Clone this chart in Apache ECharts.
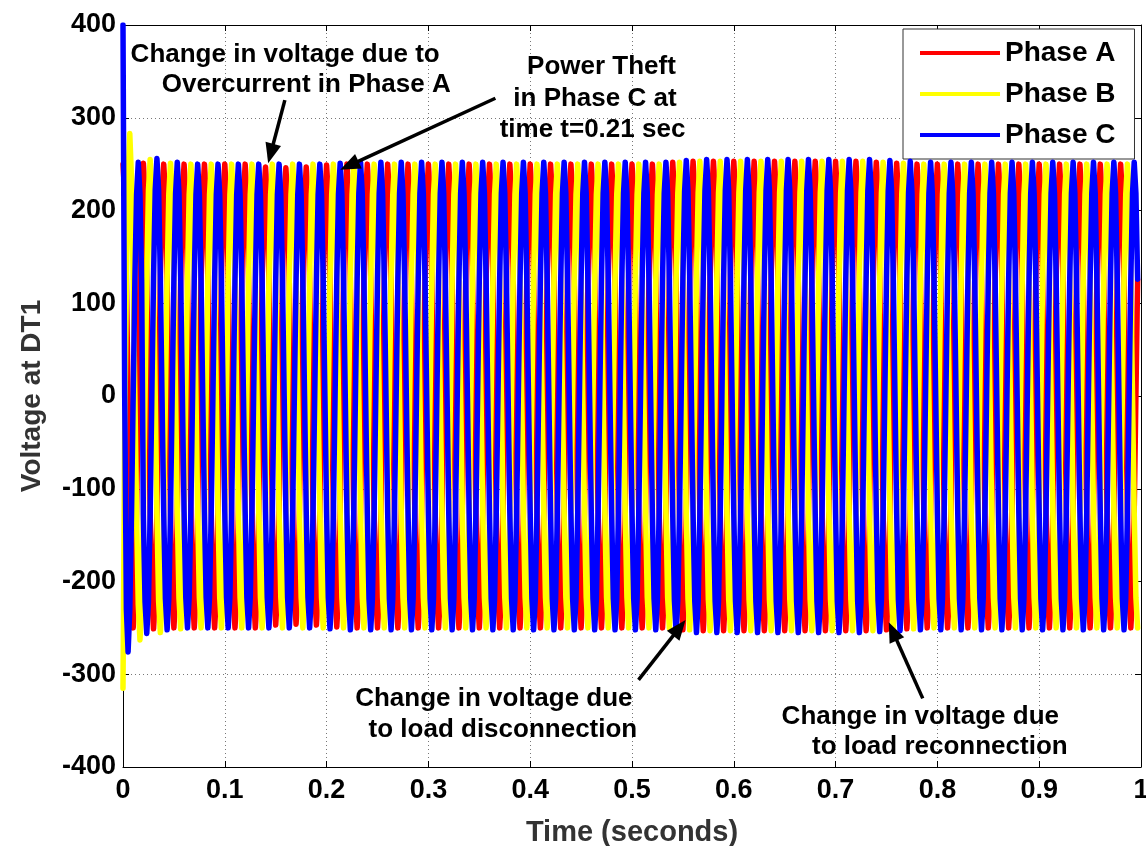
<!DOCTYPE html>
<html><head><meta charset="utf-8">
<script src="https://cdn.jsdelivr.net/npm/echarts@6/dist/echarts.min.js"></script>
<style>html,body{margin:0;padding:0;background:#fff}#c{width:1146px;height:846px}</style>
</head><body><div id="c"></div>
<script>
// ---- data ----
const xTicks = [0, 0.1, 0.2, 0.3, 0.4, 0.5, 0.6, 0.7, 0.8, 0.9, 1];
const yTicks = [-400, -300, -200, -100, 0, 100, 200, 300, 400];
const seriesNames = ['Phase A', 'Phase B', 'Phase C'];
const sampleStep = 1 / 600;            // s between plotted samples (12 per 50 Hz cycle)
const samplesPerCycle = 12;
const cycleShape = [250, 217, 125, 0, -125, -217, -250, -217, -125, 0, 125, 217]; // one Phase A cycle
const phaseLag = [0, 4, 8];            // samples of lag of A, B, C
// first cycle (start-up transient), read sample by sample
const firstCycleA = [250, 217, 125, 0, -125, -217, -250, -217, -125, 0, 125, 217];
const firstCycleB = [-315, -40, 120, 235, 283, 235, 125, 0, -125, -225, -263, -225];
const firstCycleC = [400, 0, -230, -276, -230, -130, 0, 125, 217, 252, 217, 125];
// positive peak of each 20 ms cycle (cycles 1..49)
const peakA = [251, 250, 250, 250, 250, 250, 247, 246, 247, 249, 250, 250, 250, 250, 250, 250, 250, 250, 250, 250, 250, 250, 250, 250, 250, 250, 252, 253, 253, 253, 253, 253, 253, 253, 253, 253, 252, 251, 250, 250, 250, 250, 250, 250, 250, 250, 250, 250, 250];
const peakB = [255, 251, 250, 250, 250, 250, 250, 250, 250, 250, 250, 250, 250, 250, 250, 250, 250, 250, 250, 250, 250, 250, 250, 250, 250, 250, 252, 253, 253, 253, 253, 253, 253, 253, 253, 253, 252, 251, 250, 250, 250, 250, 250, 250, 250, 250, 250, 250, 250];
const peakC = [256, 252, 250, 250, 250, 250, 250, 250, 250, 251, 252, 252, 252, 252, 252, 252, 252, 252, 252, 252, 252, 252, 252, 252, 252, 252, 254, 255, 255, 255, 255, 255, 255, 255, 255, 255, 254, 253, 252, 252, 252, 252, 252, 252, 252, 252, 252, 252, 252];
const lastSampleIndex = 598;
const seriesColors = ['#ff0000', '#ffff00', '#0000ff'];

// annotations: [text lines with centre (t, V)], arrows [tail(t,V), tip(t,V)]
const annoTexts = [
  ['Change in voltage due to', 0.1593, 367.7],
  ['Overcurrent in Phase A', 0.1800, 335.3],
  ['Power Theft', 0.4700, 354.7],
  ['in Phase C at', 0.4636, 320.2],
  ['time t=0.21 sec', 0.4612, 286.8],
  ['Change in voltage due', 0.3643, -326.1],
  ['to load disconnection', 0.3732, -360.1],
  ['Change in voltage due', 0.7832, -345.6],
  ['to load reconnection', 0.8024, -378.4]
];
const annoArrows = [
  [[0.1590, 319], [0.1426, 251]],
  [[0.3658, 321], [0.2134, 244]],
  [[0.5064, -306], [0.5526, -241.5]],
  [[0.7856, -326], [0.7522, -244]]
];

// ---- build series ----
const firsts = [firstCycleA, firstCycleB, firstCycleC];
const peaks = [peakA, peakB, peakC];
function buildSeries(p) {
  const out = [];
  for (let i = 0; i <= lastSampleIndex; i++) {
    const k = Math.floor(i / samplesPerCycle), j = i % samplesPerCycle;
    let v;
    if (k === 0) v = firsts[p][j];
    else v = peaks[p][k - 1] / 250 * cycleShape[(j - phaseLag[p] + samplesPerCycle) % samplesPerCycle];
    out.push([i * sampleStep, v]);
  }
  return out;
}

const FONT = 'Liberation Sans, Arial, Helvetica, sans-serif';
const chart = echarts.init(document.getElementById('c'), null, {renderer: 'canvas'});
const axisCommon = {
  axisLine: {show: true, onZero: false, lineStyle: {color: '#000', width: 1}},
  axisTick: {show: true, inside: true, length: 6, lineStyle: {color: '#000'}},
};
chart.setOption({
  animation: false,
  backgroundColor: '#fff',
  grid: {left: 123, right: 5, top: 25, bottom: 79, containLabel: false, outerBoundsMode: 'none'},
  legend: {
    orient: 'vertical', left: 903, top: 29,
    padding: [9, 19, 9, 17],
    itemWidth: 80, itemHeight: 4, itemGap: 11, itemTextGap: 11,
    icon: 'rect',
    backgroundColor: '#fff', borderColor: '#333', borderWidth: 1,
    textStyle: {fontSize: 28, fontWeight: 'bold', color: '#000', fontFamily: FONT, lineHeight: 30},
    data: seriesNames
  },
  xAxis: [
    Object.assign({
      type: 'value', min: xTicks[0], max: xTicks[xTicks.length - 1], interval: 0.1, position: 'bottom',
      name: 'Time (seconds)', nameLocation: 'middle', nameGap: 51,
      nameTextStyle: {fontSize: 29, fontWeight: 'bold', color: '#333', fontFamily: FONT},
      axisLabel: {fontSize: 27, fontWeight: 'bold', color: '#000', fontFamily: FONT, margin: 10,
        formatter: v => String(Math.round(v * 10) / 10)},
      splitLine: {show: true, lineStyle: {color: '#777', type: [1, 3], width: 1}}
    }, axisCommon),
    Object.assign({
      type: 'value', min: 0, max: 1, interval: 0.1, position: 'top',
      axisLabel: {show: false}, splitLine: {show: false}
    }, axisCommon)
  ],
  yAxis: [
    Object.assign({
      type: 'value', min: yTicks[0], max: yTicks[yTicks.length - 1], interval: 100, position: 'left',
      name: 'Voltage at DT1', nameLocation: 'middle', nameGap: 77, nameRotate: 90,
      nameTextStyle: {fontSize: 28, fontWeight: 'bold', color: '#333', fontFamily: FONT},
      axisLabel: {fontSize: 27, fontWeight: 'bold', color: '#000', fontFamily: FONT, margin: 7},
      splitLine: {show: true, lineStyle: {color: '#777', type: [1, 3], width: 1}}
    }, axisCommon),
    Object.assign({
      type: 'value', min: -400, max: 400, interval: 100, position: 'right',
      axisLabel: {show: false}, splitLine: {show: false}
    }, axisCommon)
  ],
  series: seriesNames.map((n, p) => ({
    name: n, type: 'line', data: buildSeries(p), xAxisIndex: 0, yAxisIndex: 0,
    symbol: 'none', showSymbol: false, sampling: null,
    itemStyle: {color: seriesColors[p]},
    lineStyle: {color: seriesColors[p], width: 5.5, join: 'round', cap: 'round'},
    z: 2 + p
  }))
});

// annotations positioned from data coordinates
const px = (t, v) => chart.convertToPixel({xAxisIndex: 0, yAxisIndex: 0}, [t, v]);
const graphics = [];
annoTexts.forEach(([txt, t, v]) => {
  const [x, y] = px(t, v);
  graphics.push({type: 'text', x: x, y: y, z: 100,
    style: {text: txt, fill: '#000', font: 'bold 26px ' + FONT, textAlign: 'center', textVerticalAlign: 'middle'}});
});
annoArrows.forEach(([tail, tip]) => {
  const [x1, y1] = px(tail[0], tail[1]);
  const [x2, y2] = px(tip[0], tip[1]);
  const dx = x2 - x1, dy = y2 - y1, len = Math.hypot(dx, dy);
  const ux = dx / len, uy = dy / len, nx = -uy, ny = ux;
  const L = 20, W = 8;
  const bx = x2 - ux * L, by = y2 - uy * L;
  graphics.push({type: 'line', z: 100, shape: {x1: x1, y1: y1, x2: bx + ux * 2, y2: by + uy * 2},
    style: {stroke: '#000', lineWidth: 3.5}});
  graphics.push({type: 'polygon', z: 100, shape: {points: [[x2, y2], [bx + nx * W, by + ny * W], [bx - nx * W, by - ny * W]]},
    style: {fill: '#000'}});
});
chart.setOption({graphic: graphics});
</script></body></html>
